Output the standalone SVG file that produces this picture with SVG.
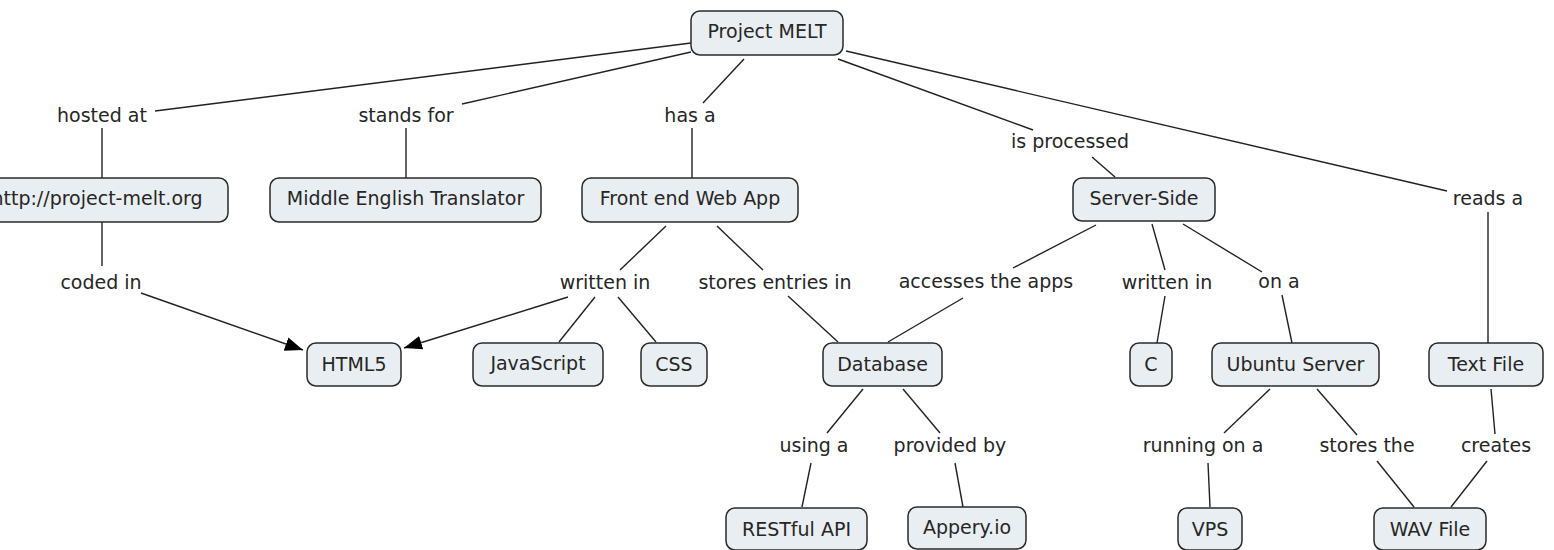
<svg xmlns="http://www.w3.org/2000/svg" width="1554" height="550" viewBox="0 0 1554 550">
<style>
.n rect{fill:#e9eef2;stroke:#2a2a2a;stroke-width:1.5}
text{font-family:"DejaVu Sans","Verdana",sans-serif;font-size:19px;fill:#262626;text-anchor:middle}
#connectors line{stroke:#222;stroke-width:1.4;fill:none}
</style>
<defs>
<marker id="arr" markerUnits="userSpaceOnUse" markerWidth="20" markerHeight="16" refX="18" refY="7" orient="auto">
<path d="M0,0 L18,7 L0,14 Z" fill="#000"/>
</marker>
</defs>
<rect width="1554" height="550" fill="#fff"/>
<g id="connectors">
<line x1="691" y1="43" x2="155" y2="111"/>
<line x1="691" y1="52" x2="462" y2="104"/>
<line x1="744" y1="59" x2="703" y2="103"/>
<line x1="838" y1="59" x2="1033" y2="130"/>
<line x1="846" y1="51" x2="1447" y2="191"/>
<line x1="102" y1="128" x2="102" y2="178"/>
<line x1="406" y1="128" x2="406" y2="178"/>
<line x1="692" y1="128" x2="692" y2="178"/>
<line x1="1092" y1="157" x2="1115" y2="177"/>
<line x1="1488" y1="212" x2="1488" y2="343"/>
<line x1="102" y1="222" x2="102" y2="266"/>
<line x1="141" y1="293" x2="303" y2="350" marker-end="url(#arr)"/>
<line x1="666" y1="226" x2="620" y2="270"/>
<line x1="717" y1="226" x2="763" y2="270"/>
<line x1="568" y1="297" x2="404" y2="348" marker-end="url(#arr)"/>
<line x1="595" y1="297" x2="559" y2="342"/>
<line x1="618" y1="297" x2="656" y2="342"/>
<line x1="788" y1="296" x2="838" y2="342"/>
<line x1="1096" y1="225" x2="1013" y2="268"/>
<line x1="963" y1="298" x2="888" y2="342"/>
<line x1="1152" y1="224" x2="1165" y2="270"/>
<line x1="1183" y1="224" x2="1262" y2="272"/>
<line x1="1165" y1="296" x2="1157" y2="343"/>
<line x1="1282" y1="295" x2="1292" y2="343"/>
<line x1="863" y1="389" x2="827" y2="433"/>
<line x1="903" y1="389" x2="940" y2="433"/>
<line x1="811" y1="463" x2="802" y2="507"/>
<line x1="955" y1="463" x2="963" y2="507"/>
<line x1="1270" y1="389" x2="1224" y2="433"/>
<line x1="1317" y1="389" x2="1357" y2="435"/>
<line x1="1208" y1="463" x2="1210" y2="507"/>
<line x1="1377" y1="461" x2="1414" y2="507"/>
<line x1="1491" y1="389" x2="1495" y2="434"/>
<line x1="1487" y1="461" x2="1451" y2="507"/>
</g>
<g id="labels">
<text x="102" y="122">hosted at</text>
<text x="406" y="122">stands for</text>
<text x="690" y="122">has a</text>
<text x="1070" y="148">is processed</text>
<text x="1488" y="205">reads a</text>
<text x="101" y="289">coded in</text>
<text x="605" y="289">written in</text>
<text x="775" y="289">stores entries in</text>
<text x="986" y="288">accesses the apps</text>
<text x="1167" y="289">written in</text>
<text x="1279" y="288">on a</text>
<text x="814" y="452">using a</text>
<text x="950" y="452">provided by</text>
<text x="1203" y="452">running on a</text>
<text x="1367" y="452">stores the</text>
<text x="1496" y="452">creates</text>
</g>
<g id="n-project-melt" class="n"><rect x="691" y="11" width="152" height="44" rx="9"/><text x="767" y="38">Project MELT</text></g>
<g id="n-url" class="n"><rect x="-30" y="178" width="258" height="44" rx="9"/><text x="97" y="205">http://project-melt.org</text></g>
<g id="n-middle-english" class="n"><rect x="270" y="178" width="271" height="44" rx="9"/><text x="405.5" y="205">Middle English Translator</text></g>
<g id="n-front-end" class="n"><rect x="582" y="178" width="216" height="44" rx="9"/><text x="690" y="205">Front end Web App</text></g>
<g id="n-server-side" class="n"><rect x="1073" y="178" width="142" height="43" rx="9"/><text x="1144" y="205">Server-Side</text></g>
<g id="n-html5" class="n"><rect x="307" y="343" width="94" height="43" rx="9"/><text x="354" y="371">HTML5</text></g>
<g id="n-javascript" class="n"><rect x="473" y="343" width="130" height="43" rx="9"/><text x="538" y="370">JavaScript</text></g>
<g id="n-css" class="n"><rect x="641" y="343" width="66" height="43" rx="9"/><text x="674" y="371">CSS</text></g>
<g id="n-database" class="n"><rect x="823" y="343" width="119" height="43" rx="9"/><text x="882.5" y="371">Database</text></g>
<g id="n-c" class="n"><rect x="1130" y="343" width="42" height="43" rx="9"/><text x="1151" y="371">C</text></g>
<g id="n-ubuntu" class="n"><rect x="1212" y="343" width="167" height="43" rx="9"/><text x="1295.5" y="371">Ubuntu Server</text></g>
<g id="n-text-file" class="n"><rect x="1429" y="343" width="114" height="43" rx="9"/><text x="1486" y="371">Text File</text></g>
<g id="n-restful" class="n"><rect x="726" y="508" width="141" height="42" rx="9"/><text x="796.5" y="536">RESTful API</text></g>
<g id="n-appery" class="n"><rect x="908" y="507" width="118" height="42" rx="9"/><text x="967" y="534">Appery.io</text></g>
<g id="n-vps" class="n"><rect x="1178" y="508" width="64" height="42" rx="9"/><text x="1210" y="536">VPS</text></g>
<g id="n-wav" class="n"><rect x="1374" y="508" width="112" height="42" rx="9"/><text x="1430" y="536">WAV File</text></g>
</svg>
